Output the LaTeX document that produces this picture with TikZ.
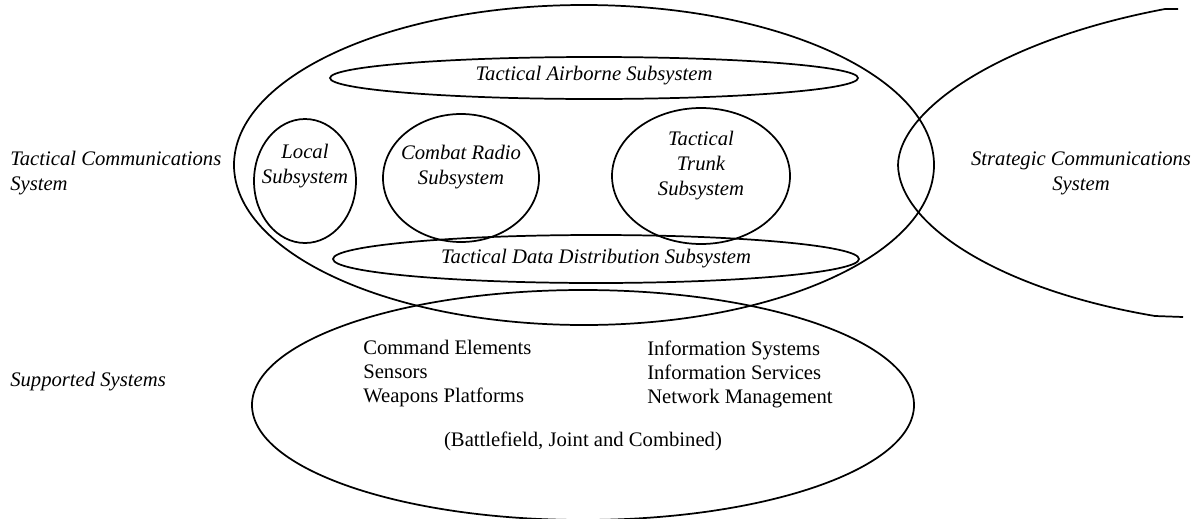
\documentclass[tikz,border=0pt]{standalone}
\usepackage{fontspec}
\setmainfont{Liberation Serif}
\usepackage{xcolor}
\definecolor{inkblack}{RGB}{0, 0, 0}

\tikzset{
  lbl/.style={inkblack, inner sep=0pt, font=\fontsize{15.5}{18.75}\selectfont\itshape, align=center},
  lst/.style={inkblack, inner sep=0pt, font=\fontsize{15.5}{18}\selectfont, align=left},
  ring/.style={draw=inkblack, line width=1.3pt}
}

\begin{document}
\begin{tikzpicture}[x=0.75pt, y=-0.75pt]
        \useasboundingbox (0,0) rectangle (1201,518);

        % tactical communications system and its subsystems
        \draw[ring] (584,165) ellipse (350 and 160);
        \draw[ring] (594,78) ellipse (264 and 21);
        \draw[ring] (305,181) ellipse (51 and 62);
        \draw[ring] (461,178) ellipse (78 and 64);
        \draw[ring] (701,176) ellipse (89 and 68);
        \draw[ring] (596,259) ellipse (263 and 24);

        % supported systems
        \draw[ring] (583,405) ellipse (331 and 115);

        % strategic communications system
        \draw[ring] (1178,9) -- (1165,9) .. controls (1000,40) and (899,110) .. (898,165)
              .. controls (899,225) and (1000,290) .. (1155,316) -- (1183,317);

        \node[lbl, anchor=west, align=left] (tcs) at (10,173) {Tactical Communications\\System};
        \node[lbl] (air) at (594,76) {Tactical Airborne Subsystem};
        \node[lbl] (loc) at (305,166) {Local\\Subsystem};
        \node[lbl] (cmb) at (461,167) {Combat Radio\\Subsystem};
        \node[lbl] (trk) at (701,166) {Tactical\\Trunk\\Subsystem};
        \node[lbl] (tdd) at (596,259) {Tactical Data Distribution Subsystem};
        \node[lbl] (scs) at (1081,173) {Strategic Communications\\System};

        \node[lbl, anchor=west] (sup) at (10,382) {Supported Systems};
        \node[lst, anchor=west] (lft) at (363,374) {Command Elements\\Sensors\\Weapons Platforms};
        \node[lst, anchor=west] (rgt) at (647,374) {Information Systems\\Information Services\\Network Management};
        \node[lst, align=center] (bjc) at (583,441) {(Battlefield, Joint and Combined)};
    \end{tikzpicture}
\end{document}
